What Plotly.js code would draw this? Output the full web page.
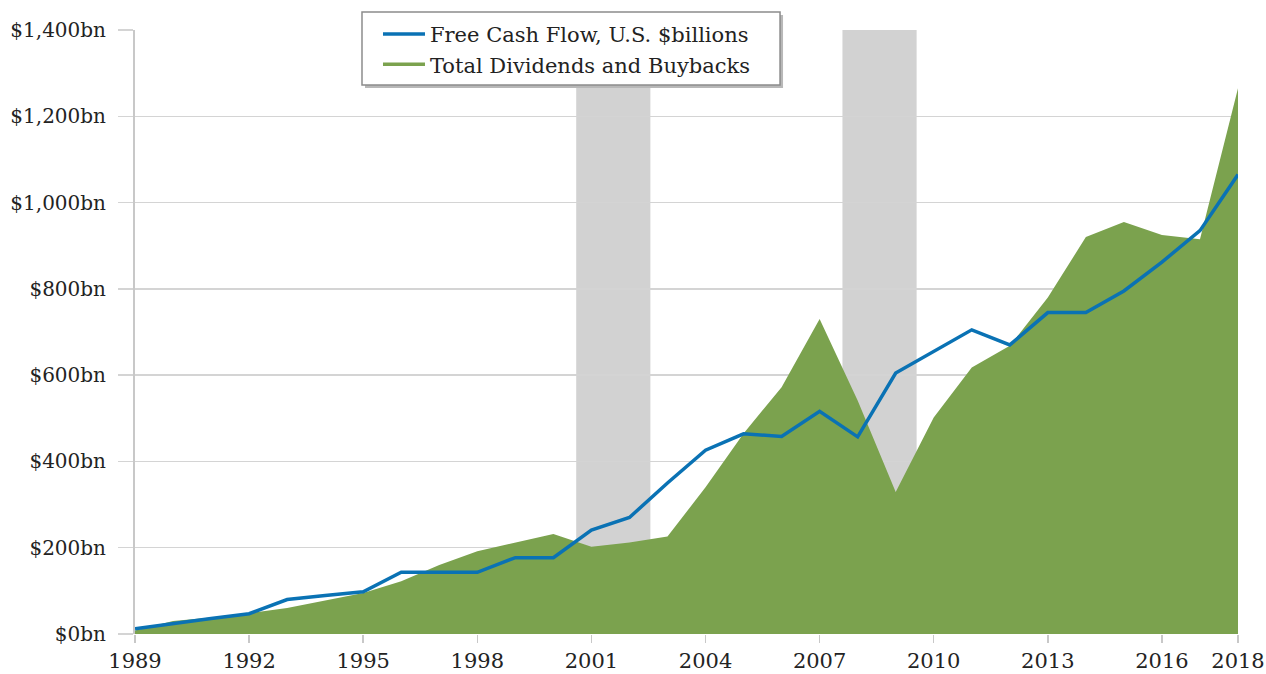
<!DOCTYPE html>
<html>
<head>
<meta charset="utf-8">
<script src="https://cdn.plot.ly/plotly-3.0.1.min.js"></script>
<style>
  html, body { margin: 0; padding: 0; background: #ffffff; }
  #chart { width: 1266px; height: 674px; }
</style>
</head>
<body>
<div id="chart"></div>
<script>
// ---- data ----
const years = [1989, 1990, 1991, 1992, 1993, 1994, 1995, 1996, 1997, 1998,
               1999, 2000, 2001, 2002, 2003, 2004, 2005, 2006, 2007, 2008,
               2009, 2010, 2011, 2012, 2013, 2014, 2015, 2016, 2017, 2018];
const freeCashFlow = [12, 25, 36, 47, 80, 89, 98, 143, 143, 143,
                      177, 177, 241, 270, 350, 426, 464, 458, 516, 457,
                      605, 655, 705, 670, 745, 745, 795, 862, 935, 1065];
const dividendsBuybacks = [8, 30, 38, 48, 60, 78, 95, 122, 160, 192,
                           212, 232, 202, 212, 226, 340, 465, 572, 730, 541,
                           329, 502, 618, 668, 780, 920, 955, 925, 915, 1265];
const recessionStart = [2000.6, 2007.6];
const recessionEnd = [2002.55, 2009.55];
const xTickVals = [1989, 1992, 1995, 1998, 2001, 2004, 2007, 2010, 2013, 2016, 2018];
const yTickVals = [0, 200, 400, 600, 800, 1000, 1200, 1400];
const yTickText = ["$0bn", "$200bn", "$400bn", "$600bn", "$800bn", "$1,000bn", "$1,200bn", "$1,400bn"];
const seriesNames = ["Free Cash Flow, U.S. $billions", "Total Dividends and Buybacks"];

const BLUE = "#0a72b4";
const GREEN = "#7ba24e";
const FONT = "DejaVu Serif";
const TEXT = "#232323";

const traces = [
  {
    x: years, y: dividendsBuybacks, type: "scatter", mode: "lines",
    fill: "tozeroy", fillcolor: GREEN, line: {color: GREEN, width: 0},
    showlegend: false, hoverinfo: "x+y"
  },
  {
    x: years, y: freeCashFlow, type: "scatter", mode: "lines",
    name: seriesNames[0], line: {color: BLUE, width: 3.5},
    legendrank: 1
  },
  {
    x: [null], y: [null], type: "scatter", mode: "lines",
    name: seriesNames[1], line: {color: GREEN, width: 3.5},
    legendrank: 2
  }
];

const shapes = recessionStart.map((s, i) => ({
  type: "rect", xref: "x", yref: "paper",
  x0: s, x1: recessionEnd[i], y0: 0, y1: 1,
  fillcolor: "#d2d2d2", line: {width: 0}, layer: "below"
}));
// legend frame (box + soft shadow), drawn as paper-anchored shapes behind the legend text
const PW = 1103, PH = 604;
const lx0 = 0.2058, lx1 = 0.5848, ly0 = 0.909, ly1 = 1.0298;
shapes.push({
  type: "rect", xref: "paper", yref: "paper", layer: "above",
  x0: lx0 + 3 / PW, x1: lx1 + 3 / PW, y0: ly0 - 3 / PH, y1: ly1 - 3 / PH,
  fillcolor: "#b8b8b8", line: {width: 0}
});
shapes.push({
  type: "rect", xref: "paper", yref: "paper", layer: "above",
  x0: lx0, x1: lx1, y0: ly0, y1: ly1,
  fillcolor: "#ffffff", line: {color: "#8c8c8c", width: 1.5}
});

const layout = {
  width: 1266, height: 674,
  margin: {l: 135, r: 28, t: 30, b: 40},
  paper_bgcolor: "#ffffff", plot_bgcolor: "#ffffff",
  font: {family: FONT, color: TEXT, size: 20},
  showlegend: true,
  legend: {
    x: 0.2203, y: 1.0267, xanchor: "left", yanchor: "top",
    bgcolor: "rgba(0,0,0,0)", borderwidth: 0,
    font: {family: FONT, size: 21, color: "#222222"},
    itemwidth: 42,
    traceorder: "normal"
  },
  shapes: shapes,
  xaxis: {
    range: [1989, 2018], tickvals: xTickVals,
    showgrid: false, zeroline: false,
    showline: false,
    ticks: "outside", ticklen: 8, tickwidth: 1.5, tickcolor: "#c8c8c8",
    tickfont: {family: FONT, size: 21, color: TEXT}
  },
  yaxis: {
    range: [0, 1400], tickvals: yTickVals, ticktext: yTickText,
    showgrid: true, gridcolor: "#d4d4d4", gridwidth: 1.5,
    zeroline: false,
    showline: true, linecolor: "#c8c8c8", linewidth: 2,
    ticks: "outside", ticklen: 15, tickwidth: 1.5, tickcolor: "#d4d4d4",
    ticklabelstandoff: 8,
    tickfont: {family: FONT, size: 20, color: TEXT}
  }
};

Plotly.newPlot("chart", traces, layout, {displayModeBar: false, staticPlot: true});
</script>
</body>
</html>
